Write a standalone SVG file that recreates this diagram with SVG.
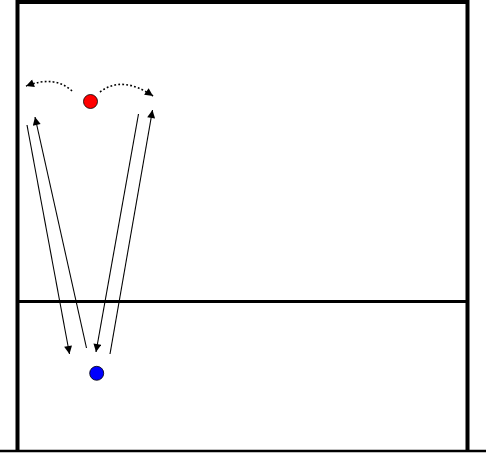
<svg xmlns="http://www.w3.org/2000/svg" width="486" height="453" viewBox="0 0 486 453">
<defs>
<marker id="ah" viewBox="0 0 10 10" refX="10" refY="5" markerWidth="10" markerHeight="8" markerUnits="userSpaceOnUse" orient="auto"><path d="M0,0 L10,5 L0,10 z" fill="#000"/></marker>
</defs>
<style>
.court{stroke:#000;fill:none}
.run{stroke:#000;stroke-width:1.1;fill:none;marker-end:url(#ah)}
.dot{stroke:#000;stroke-width:1.6;fill:none;stroke-dasharray:1.8 2.2;marker-end:url(#ah)}
</style>
<rect width="486" height="453" fill="#fff"/>
<g id="court">
<polyline class="court" stroke-width="4" points="17.5,452 17.5,2 467.5,2 467.5,452"/>
<line class="court" stroke-width="3" x1="17" y1="301.5" x2="468" y2="301.5"/>
<line class="court" stroke-width="2.5" x1="0" y1="451" x2="486" y2="451"/>
</g>
<g id="connectors">
<line class="run" x1="27" y1="125" x2="69.5" y2="354"/>
<line class="run" x1="86.5" y1="348" x2="35" y2="117"/>
<line class="run" x1="138.5" y1="114" x2="96" y2="352"/>
<line class="run" x1="110" y1="354" x2="152.5" y2="110"/>
<path class="dot" d="M72,91 Q55,75 26,86"/>
<path class="dot" d="M100,92 Q122,75 153,96"/>
</g>
<g id="red"><circle cx="90.5" cy="101.5" r="7" fill="#f00" stroke="#000" stroke-width="0.8"/></g>
<g id="blue"><circle cx="96.7" cy="373.3" r="7" fill="#00f" stroke="#000" stroke-width="0.8"/></g>
</svg>
